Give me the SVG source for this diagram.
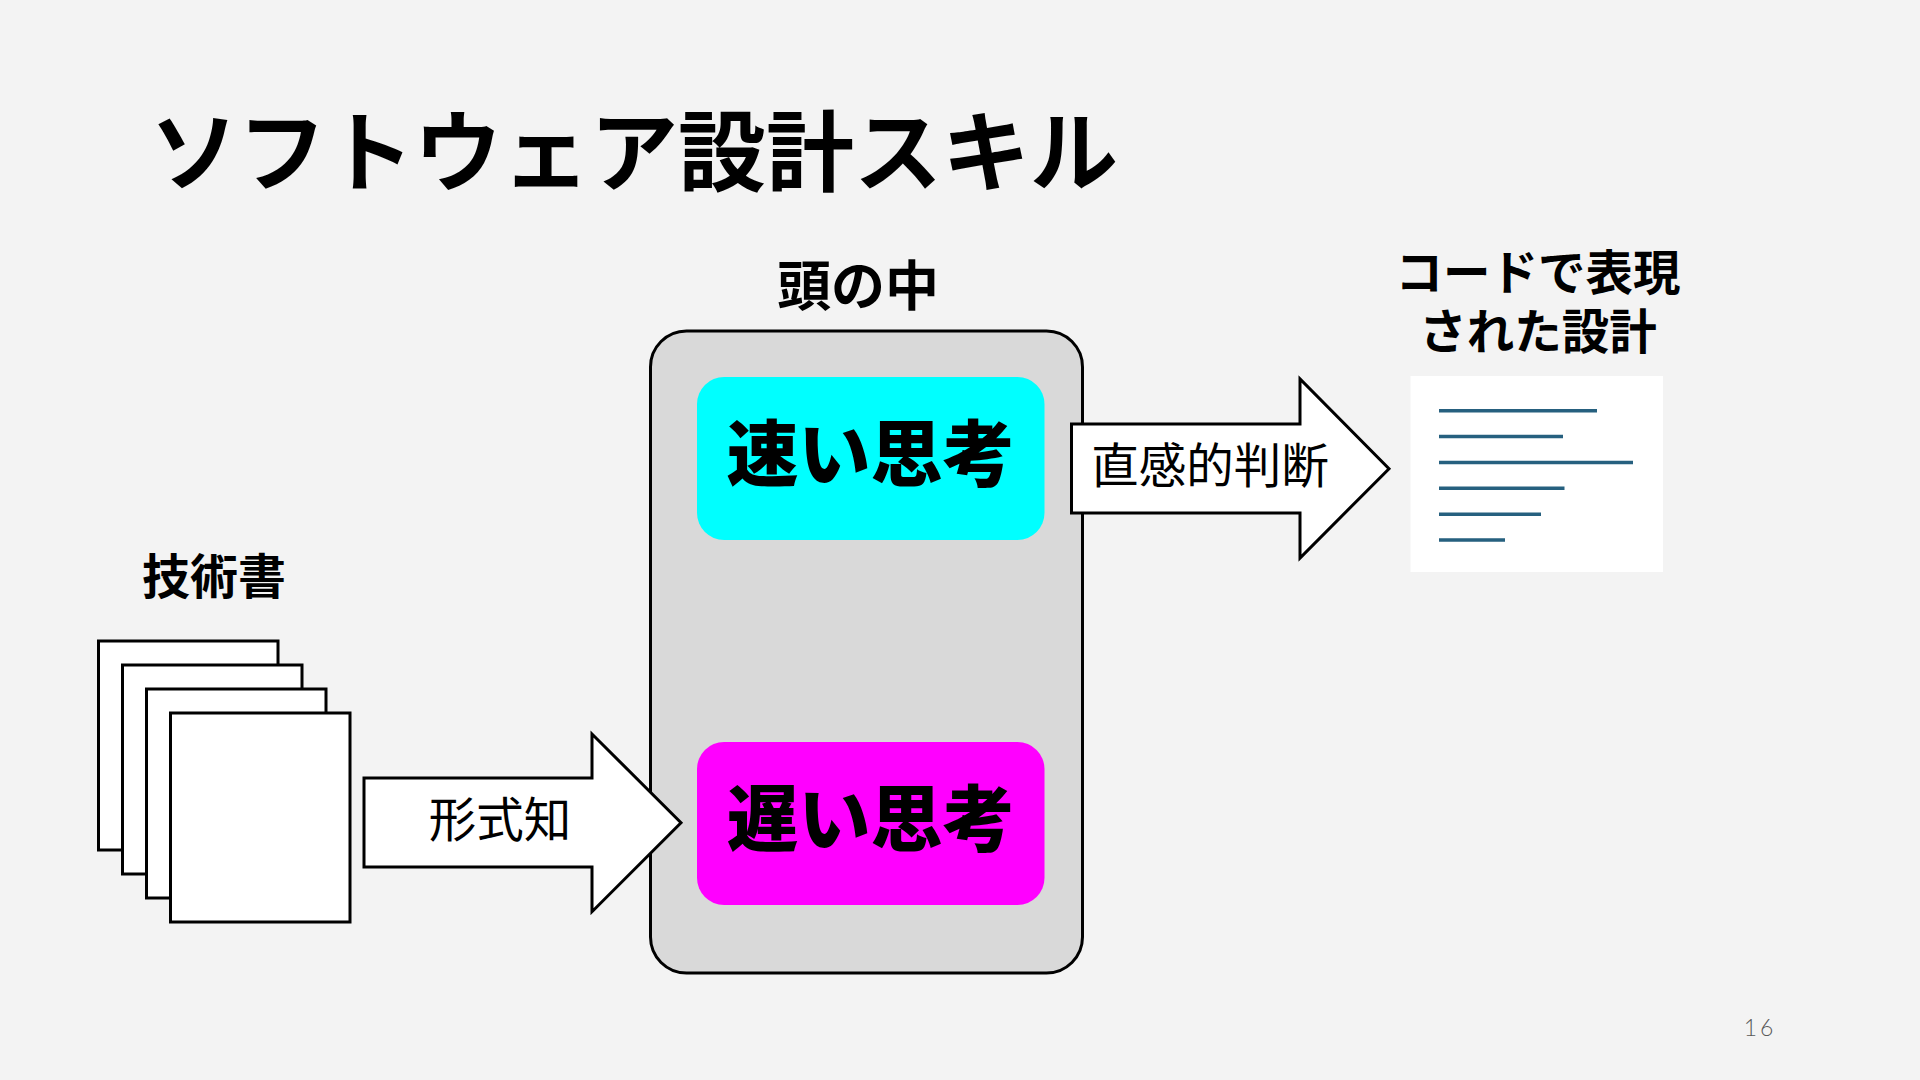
<svg xmlns="http://www.w3.org/2000/svg" width="1920" height="1080" viewBox="0 0 1920 1080">
<style>
text{font-family:"Noto Sans CJK JP","Noto Sans",sans-serif;fill:#000;text-anchor:middle}
.b{font-weight:700;font-size:48px}
.r{font-weight:400;font-size:47.500px}
.big{font-weight:900;font-size:72px}
.box{fill:#fff;stroke:#000;stroke-width:3}
.line{stroke:#26607f;stroke-width:3.500;fill:none}
</style>
<rect width="1920" height="1080" fill="#f3f3f3"/>
<text id="title" x="634" y="184" style="font-weight:700;font-size:88px">ソフトウェア設計スキル</text>
<g id="head">
<rect x="650.500" y="331" width="432" height="642" rx="36" fill="#d9d9d9" stroke="#000" stroke-width="3"/>
<text class="b" x="858" y="306" style="font-size:54px">頭の中</text>
</g>
<g id="fast">
<rect x="697" y="377" width="347.500" height="163" rx="27" fill="#00ffff"/>
<text class="big" x="870.500" y="480">速い思考</text>
</g>
<g id="slow">
<rect x="697" y="742" width="347.500" height="163" rx="27" fill="#ff00ff"/>
<text class="big" x="870.500" y="845">遅い思考</text>
</g>
<g id="books">
<rect class="box" x="98.500" y="641" width="179.500" height="209"/>
<rect class="box" x="122.500" y="665" width="179.500" height="209"/>
<rect class="box" x="146.500" y="689" width="179.500" height="209"/>
<rect class="box" x="170.500" y="713" width="179.500" height="209"/>
<text class="b" x="214" y="594">技術書</text>
</g>
<g id="connectors">
<g id="arrow-formal">
<path class="box" d="M364 778H592V734L681 822.700L592 911.700V867H364Z"/>
<text class="r" x="500" y="837">形式知</text>
</g>
<g id="arrow-intuition">
<path class="box" d="M1071.500 424H1300V379L1389 468.700L1300 558V513H1071.500Z"/>
<text class="r" x="1210" y="483">直感的判断</text>
</g>
</g>
<g id="code">
<text class="b" style="font-size:47.500px"><tspan x="1538" y="290">コードで表現</tspan><tspan x="1538" y="349">された設計</tspan></text>
<rect x="1410.500" y="376" width="252.500" height="196" fill="#fff"/>
<path class="line" d="M1439 410.700H1597M1439 436.500H1563M1439 462.500H1633M1439 488.300H1564.500M1439 514.300H1541M1439 540H1505"/>
</g>
<text id="page" x="1760" y="1036" style="font-family:Lato,sans-serif;font-weight:300;font-size:23px;fill:#595959;letter-spacing:3px">16</text>
</svg>
